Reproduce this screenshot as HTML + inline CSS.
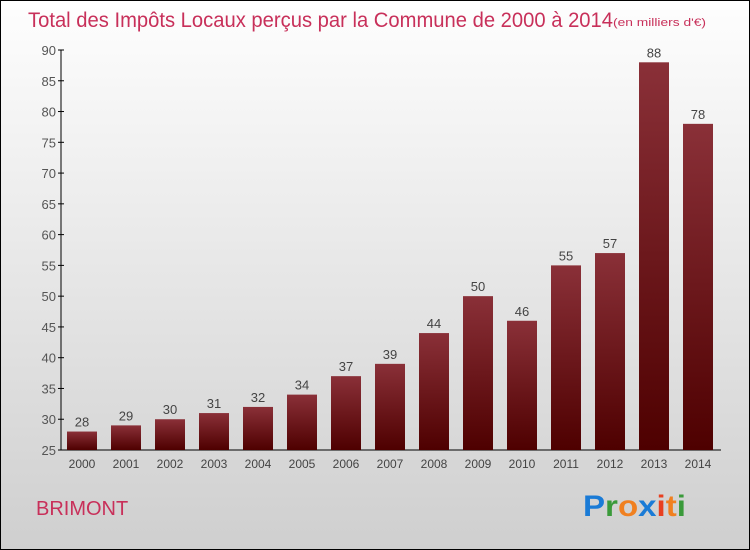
<!DOCTYPE html>
<html><head><meta charset="utf-8"><style>
body{margin:0}
#wrap{width:748px;height:548px;border:1px solid #000;background:linear-gradient(#fefefe,#cfcfcf);position:relative;overflow:hidden;font-family:"Liberation Sans",sans-serif}
</style></head><body>
<div id="wrap">
<svg id="chart" width="748" height="548">
<defs><linearGradient id="bg" x1="0" y1="0" x2="0" y2="1"><stop offset="0" stop-color="#8a3038"/><stop offset="1" stop-color="#4e0000"/></linearGradient></defs>
<text x="27" y="26" font-size="21" fill="#c8305a" textLength="585" lengthAdjust="spacingAndGlyphs">Total des Impôts Locaux perçus par la Commune de 2000 à 2014</text>
<text x="612" y="25" font-size="11" fill="#c8305a" textLength="93" lengthAdjust="spacingAndGlyphs">(en milliers d'€)</text>
<text x="35" y="514" font-size="20" fill="#c8305a">BRIMONT</text>
<text x="582" y="515" font-size="30" font-weight="bold" textLength="103" lengthAdjust="spacingAndGlyphs"><tspan fill="#1a7bd6">P</tspan><tspan fill="#3a9a3a">r</tspan><tspan fill="#f08020">o</tspan><tspan fill="#1a7bd6">x</tspan><tspan fill="#e84020">i</tspan><tspan fill="#f08020">t</tspan><tspan fill="#3a9a3a">i</tspan></text>
<g id="axes"></g><g id="bars"></g>
</svg></div>
<script>
const years=["2000","2001","2002","2003","2004","2005","2006","2007","2008","2009","2010","2011","2012","2013","2014"];
const values=[28,29,30,31,32,34,37,39,44,50,46,55,57,88,78];
const yTicks=[25,30,35,40,45,50,55,60,65,70,75,80,85,90];
const ns="http://www.w3.org/2000/svg";
const y=v=>449-(v-25)*400/65;
const x=i=>81+i*44;
function mk(t,a,p){const e=document.createElementNS(ns,t);for(const k in a)e.setAttribute(k,a[k]);p.appendChild(e);return e;}
const ax=document.getElementById('axes'),bs=document.getElementById('bars');
let l=mk('line',{x1:60,y1:y(90),x2:60,y2:449,stroke:'#000'},ax);


l=mk('line',{x1:60,y1:449,x2:720,y2:449,stroke:'#000'},ax);


yTicks.forEach(v=>{
 mk('line',{x1:57,x2:63,y1:y(v),y2:y(v),stroke:'#000'},ax);
 const t=mk('text',{x:55,y:y(v)+5,'text-anchor':'end','font-size':13,fill:'#555'},ax);
 t.textContent=v;
 
 
});
years.forEach((yr,i)=>{
 const r=mk('rect',{x:x(i)-15,y:y(values[i]),width:30,height:449-y(values[i]),fill:'url(#bg)'},bs);
 
 
 const t=mk('text',{x:x(i),y:y(values[i])-5,'text-anchor':'middle','font-size':13,fill:'#444'},bs);
 t.textContent=values[i];
 
 
 const xl=mk('text',{x:x(i),y:467,'text-anchor':'middle','font-size':12,fill:'#444'},ax);
 xl.textContent=yr;
 
 
});
</script></body></html>
